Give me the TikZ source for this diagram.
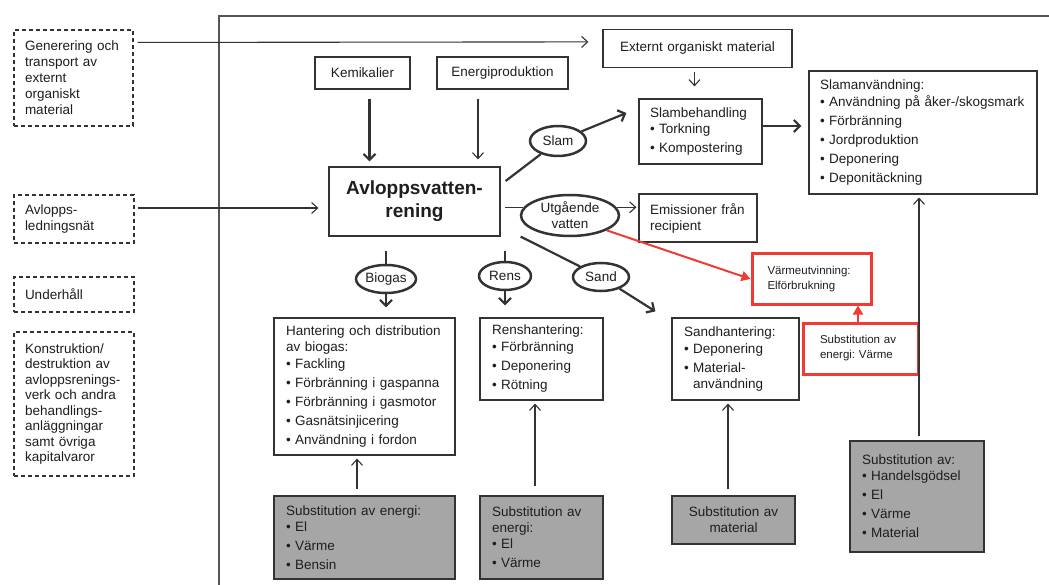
\documentclass[tikz,border=0pt]{standalone}
\usepackage{fontspec}
\setmainfont{Liberation Sans}
\usetikzlibrary{shapes.geometric,arrows.meta,calc}
\definecolor{linec}{HTML}{333333}
\definecolor{txtc}{HTML}{1E1E1E}
\definecolor{grayf}{HTML}{A6A6A6}
\definecolor{redc}{HTML}{EE3B36}
\definecolor{framec}{HTML}{555555}
\newcommand{\fsn}{\fontsize{13.5}{16}\selectfont}
\newcommand{\fss}{\fontsize{11.5}{15}\selectfont}
\newcommand{\bul}{\textbullet\ }
\frenchspacing
\begin{document}
\frenchspacing
\begin{tikzpicture}[x=1pt,y=-1pt,
  box/.style={draw=linec, line width=1.2pt, fill=white, text=txtc, inner xsep=12pt, inner ysep=0pt, align=left, font=\fsn},
  graybox/.style={box, fill=grayf},
  dbox/.style={box, line width=1.1pt, dash pattern=on 4pt off 3pt, inner xsep=11pt},
  redbox/.style={box, draw=redc, line width=3pt, font=\fss},
  mainbox/.style={box, align=center, font=\fontsize{19}{23}\selectfont\bfseries},
  oval/.style={ellipse, draw=linec, line width=2.5pt, fill=white, inner sep=0pt, text=txtc, font=\fsn, align=center},
  arr/.style={draw=linec, line width=1.1pt, -{Straight Barb[length=6pt,width=11pt]}},
  tarr/.style={draw=linec, line width=2.2pt, -{Straight Barb[length=6pt,width=12pt]}},
  tline/.style={draw=linec, line width=2.2pt},
  redarr/.style={draw=redc, line width=2pt, -{Triangle[length=9pt,width=10pt]}}
]
\useasboundingbox (0,0) rectangle (1049,585);
% frame
\draw[line width=2.8pt, draw=framec] (219,585) -- (219,16) -- (1049,16);

% left dashed boxes
\node[dbox, text width=97, minimum height=96] (gen) at (73.5,78) {Generering och\\transport av\\externt\\organiskt\\material};
\node[dbox, text width=98, minimum height=48] (led) at (74,219) {Avlopps-\\ledningsnät};
\node[dbox, text width=98, minimum height=35] (und) at (74,294.5) {Underhåll};
\node[dbox, text width=98, minimum height=144, font=\fontsize{13.5}{15.5}\selectfont] (kon) at (74,404) {Konstruktion/\\destruktion av\\avloppsrenings-\\verk och andra\\behandlings-\\anläggningar\\samt övriga\\kapitalvaror};

% top boxes
\node[box, align=center, text width=71, minimum height=32] (kem) at (362.5,73) {Kemikalier};
\node[box, align=center, text width=107, minimum height=32] (en) at (502.5,73) {Energiproduktion};
\node[box, align=center, text width=165, minimum height=38] (ext) at (697.5,48.5) {Externt organiskt material};

% main box
\node[mainbox, text width=147, minimum height=69] (avl) at (414.5,201.5) {Avloppsvatten-\\rening};

% right boxes
\node[box, inner xsep=11pt, text width=101, minimum height=65] (slb) at (700.5,131.5) {Slambehandling\\\bul Torkning\\[3pt]\bul Kompostering};
\node[box, inner xsep=11pt, text width=206, minimum height=123] (sla) at (923,132.5) {Slamanvändning:\\[1pt]\bul Användning på åker-/skogsmark\\[3pt]\bul Förbränning\\[3pt]\bul Jordproduktion\\[3pt]\bul Deponering\\[3pt]\bul Deponitäckning};
\node[box, inner xsep=11pt, text width=96, minimum height=48] (emis) at (698,218) {Emissioner från\\recipient};
\node[redbox, inner xsep=15.5pt, text width=88, minimum height=50] (varme) at (811.5,279) {Värmeutvinning:\\Elförbrukning};
\node[redbox, inner xsep=17pt, text width=81, minimum height=51] (rsub) at (860.5,348.5) {Substitution av\\energi: Värme};

% ovals
\node[oval, minimum width=56, minimum height=30] (slam) at (558,141) {Slam};
\node[oval, minimum width=98, minimum height=41] (utg) at (570,215.5) {Utgående\\vatten};
\node[oval, minimum width=56, minimum height=28] (sand) at (601,277) {Sand};
\node[oval, minimum width=60, minimum height=28] (bio) at (386,279) {Biogas};
\node[oval, minimum width=52, minimum height=28] (rens) at (505,276) {Rens};

% lower boxes
\node[box, text width=157, minimum height=137] (hant) at (364.5,386.5) {Hantering och distribution\\av biogas:\\[1pt]\bul Fackling\\[3pt]\bul Förbränning i gaspanna\\[3pt]\bul Förbränning i gasmotor\\[3pt]\bul Gasnätsinjicering\\[3pt]\bul Användning i fordon};
\node[box, text width=99, minimum height=82] (rensh) at (541.5,359) {Renshantering:\\[1pt]\bul Förbränning\\[3pt]\bul Deponering\\[3pt]\bul Rötning};
\node[box, text width=103, minimum height=82] (sandh) at (735.5,359) {Sandhantering:\\[1pt]\bul Deponering\\[3pt]\bul Material-\\\phantom{\bul}användning};

% gray boxes
\node[graybox, text width=157, minimum height=83] (g1) at (364.5,537.5) {Substitution av energi:\\\bul El\\[3pt]\bul Värme\\[3pt]\bul Bensin};
\node[graybox, text width=99, minimum height=83] (g2) at (541.5,537.5) {Substitution av\\energi:\\\bul El\\[3pt]\bul Värme};
\node[graybox, align=center, text width=99, minimum height=48] (g3) at (733.5,520) {Substitution av\\material};
\node[graybox, text width=110, minimum height=111] (g4) at (917,496.5) {Substitution av:\\\bul Handelsgödsel\\[3pt]\bul El\\[3pt]\bul Värme\\[3pt]\bul Material};

% connectors
\draw[arr] ($(gen.north east)+(4,13)$) -- ($(ext.north west)+(-14,13)$);
\draw[arr] ($(led.east)+(3,-11)$) -- ($(avl.west)+(-10,6.5)$);
\draw[tarr] ($(kem.south)+(7,9)$) -- ($(kem.south |- avl.north)+(7,-5)$);
\draw[arr] ($(en.south)+(-24.5,9)$) -- ($(en.south |- avl.north)+(-24.5,-7)$);
\draw[arr] ($(ext.south)+(-3,4)$) -- ($(ext.south |- slb.north)+(-3,-12)$);

\draw[tline] ($(avl.east)+(5,-20.5)$) -- (slam);
\draw[tarr] (slam) -- ($(slb.west)+(-12,-18.5)$);
\draw[tarr] ($(slb.east)+(0,-5.5)$) -- ($(sla.west |- slb.east)+(-7,-5.5)$);

\draw[draw=linec, line width=1.1pt] ($(avl.east |- utg.170)+(4,0)$) -- (utg.170);
\draw[arr] (utg.10) -- ($(emis.west |- utg.10)+(-2,0)$);
\draw[redarr] (utg.-22) -- (varme.west);

\draw[tline] ($(avl.south east)+(20,0)$) -- (sand);
\draw[tarr] (sand) -- ($(sandh.north west)+(-16,-6)$);

\draw[tline] (bio.north) -- ($(bio.north |- avl.south)+(0,14)$);
\draw[tarr] (bio.south) -- ($(bio.south |- hant.north)+(0,-10)$);
\draw[tline] (rens.north) -- ($(rens.north |- avl.south)+(0,14)$);
\draw[tarr] (rens.south) -- ($(rens.south |- rensh.north)+(0,-12)$);

\draw[arr] ($(g1.north)+(-7.5,-6)$) -- ($(hant.south)+(-7.5,3)$);
\draw[arr] ($(g2.north)+(-6.5,-9)$) -- ($(rensh.south)+(-6.5,3)$);
\draw[arr] ($(g3.north)+(-5.5,-6)$) -- ($(sandh.south)+(-7.5,3)$);
\draw[arr] ($(g4.north)+(2,-4)$) -- ($(g4.north |- sla.south)+(2,3)$);
\draw[redarr] ($(rsub.north)+(-2.5,0)$) -- ($(rsub.north |- varme.south)+(-2.5,0)$);
\end{tikzpicture}
\end{document}
